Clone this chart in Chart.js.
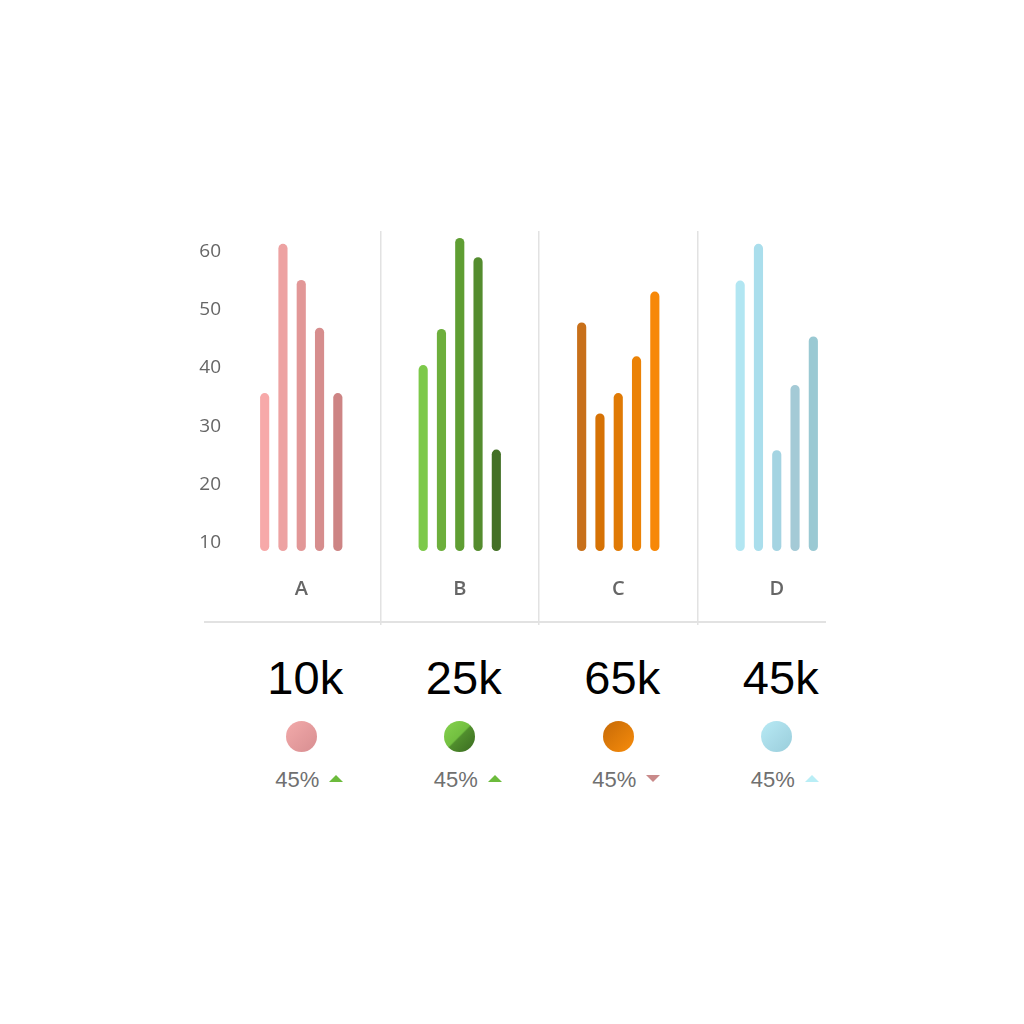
<!DOCTYPE html>
<html lang="en">
<head>
<meta charset="UTF-8">
<title>Grouped bars</title>
<script src="https://cdn.jsdelivr.net/npm/chart.js"></script>
<style>
    body {
        margin: 0;
        background: #fff;
        width: 1024px;
        height: 1024px;
        position: relative;
        overflow: hidden;
        font-family: "Liberation Sans", Arial, sans-serif;
    }
    #wrap {
        position: absolute;
        left: 0;
        top: 0;
        width: 1024px;
        height: 640px;
    }
    #hline {
        position: absolute;
        left: 204px;
        top: 621px;
        width: 622px;
        height: 1.5px;
        background: #e2e2e2;
    }
    .row {
        position: absolute;
        left: 222px;
        width: 634px;
        display: flex;
    }
    .row > div {
        width: 158.5px;
        text-align: center;
    }
    #totals { top: 650px; }
    #totals div { font-size: 47px; line-height: 56px; color: #000; padding-left: 8px; box-sizing: border-box; }
    #dots { top: 721px; }
    #dots span { display: inline-block; width: 31px; height: 31px; border-radius: 50%; }
    #changes { top: 767px; }
    #changes div { font-size: 22px; line-height: 26px; color: #707070; padding-left: 16px; box-sizing: border-box; }
    .tri { display: inline-block; width: 0; height: 0; margin-left: 10px; vertical-align: 5px;
           border-left: 7px solid transparent; border-right: 7px solid transparent; }
</style>
</head>
<body>
    <div id="wrap"><canvas id="bars"></canvas></div>
    <div id="hline"></div>
    <div class="row" id="totals"></div>
    <div class="row" id="dots"></div>
    <div class="row" id="changes"></div>
<script>
    const categories = ['A', 'B', 'C', 'D'];
    const yTicks = [10, 20, 30, 40, 50, 60];
    const yMin = 8.6;
    const yMax = 63.5;

    // five bars per category, one dataset per position
    const s1 = [35.7, 40.5, 47.8, 55.0];
    const s2 = [61.3, 46.7, 32.2, 61.3];
    const s3 = [55.1, 62.3, 35.7, 25.9];
    const s4 = [46.9, 59.0, 42.0, 37.1];
    const s5 = [35.7, 26.0, 53.1, 45.4];

    const c1 = ['#f7a9a9', '#7dc94a', '#c8701a', '#b2e6f2'];
    const c2 = ['#eda2a2', '#6daf3c', '#d67205', '#aadeec'];
    const c3 = ['#e29797', '#5f9e33', '#e07a05', '#a4d4e2'];
    const c4 = ['#d68d8d', '#548c2e', '#eb8206', '#a4cad6'];
    const c5 = ['#cd8484', '#437026', '#f78808', '#9ac9d3'];

    const totals = ['10k', '25k', '65k', '45k'];
    const changes = ['45%', '45%', '45%', '45%'];
    const trends = ['up', 'up', 'down', 'up'];
    const trendColors = ['#6cbb3c', '#6cbb3c', '#c98a8a', '#b9eef6'];
    const dotFills = [
        'linear-gradient(135deg, #f2aaaa 0%, #d88e91 100%)',
        'linear-gradient(135deg, #86d24e 0%, #72bf40 48%, #508e2d 52%, #3a6a20 100%)',
        'linear-gradient(135deg, #c66a07 0%, #f78c0b 100%)',
        'linear-gradient(135deg, #b8eaf5 0%, #9acddb 100%)'
    ];

    const series = [s1, s2, s3, s4, s5];
    const colors = [c1, c2, c3, c4, c5];

    const datasets = series.map((s, i) => ({
        data: s,
        base: yMin,
        backgroundColor: colors[i],
        borderRadius: 5,
        borderSkipped: false,
        barPercentage: 0.5,
        categoryPercentage: 0.577
    }));

    new Chart(document.getElementById('bars'), {
        type: 'bar',
        data: { labels: categories, datasets: datasets },
        options: {
            animation: false,
            responsive: true,
            maintainAspectRatio: false,
            layout: { padding: { left: 190, top: 231, right: 168, bottom: 15 } },
            plugins: { legend: { display: false }, tooltip: { enabled: false } },
            scales: {
                x: {
                    grid: {
                        offset: true,
                        drawOnChartArea: true,
                        drawTicks: true,
                        tickLength: 74,
                        lineWidth: 1.5,
                        // only the lines between categories, not the outer edges
                        color: ctx => (ctx.type !== 'tick' || ctx.index === 0) ? 'rgba(0,0,0,0)' : '#e2e2e2'
                    },
                    border: { display: false },
                    ticks: {
                        padding: -48,
                        color: '#666',
                        font: { family: 'Open Sans', size: 20, weight: '600' }
                    },
                    afterFit: s => { s.height = 74; }
                },
                y: {
                    min: yMin,
                    max: yMax,
                    beginAtZero: false,
                    grid: { display: false, drawTicks: false },
                    border: { display: false },
                    afterBuildTicks: s => { s.ticks = yTicks.map(v => ({ value: v })); },
                    ticks: {
                        padding: 1,
                        color: '#666',
                        font: { family: 'Open Sans', size: 19 }
                    },
                    afterFit: s => { s.width = 32; }
                }
            }
        }
    });

    const tRow = document.getElementById('totals');
    const dRow = document.getElementById('dots');
    const cRow = document.getElementById('changes');
    for (let i = 0; i < categories.length; i++) {
        let t = document.createElement('div');
        t.textContent = totals[i];
        tRow.appendChild(t);

        let d = document.createElement('div');
        let dot = document.createElement('span');
        dot.style.background = dotFills[i];
        d.appendChild(dot);
        dRow.appendChild(d);

        let c = document.createElement('div');
        c.appendChild(document.createTextNode(changes[i]));
        let tri = document.createElement('span');
        tri.className = 'tri';
        if (trends[i] === 'up') {
            tri.style.borderBottom = '7px solid ' + trendColors[i];
        } else {
            tri.style.borderTop = '7px solid ' + trendColors[i];
        }
        c.appendChild(tri);
        cRow.appendChild(c);
    }
</script>
</body>
</html>
